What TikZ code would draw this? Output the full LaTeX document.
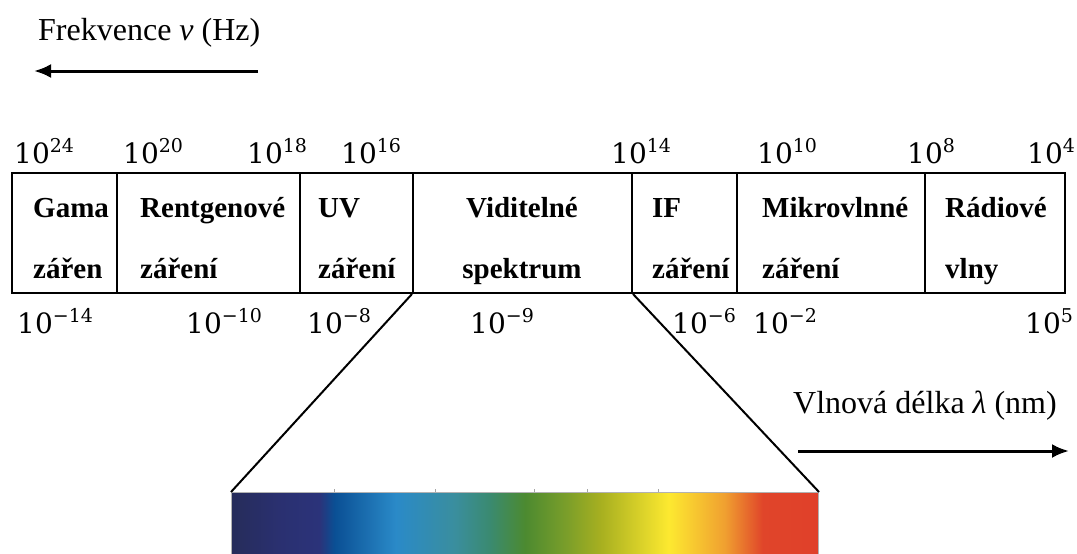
\documentclass[tikz,border=0pt]{standalone}
\usepackage{fontspec}
\setmainfont{Liberation Serif}
\newfontfamily\numf{DejaVu Serif}
\usetikzlibrary{arrows.meta}
\definecolor{c0}{HTML}{262C5A}
\definecolor{c1}{HTML}{2A3070}
\definecolor{c2}{HTML}{2B337A}
\definecolor{c3}{HTML}{0A4F94}
\definecolor{c4}{HTML}{2A8AC8}
\definecolor{c5}{HTML}{3A8E9E}
\definecolor{c6}{HTML}{3A8A70}
\definecolor{c7}{HTML}{4C8A30}
\definecolor{c8}{HTML}{7A9E2A}
\definecolor{c9}{HTML}{A8B020}
\definecolor{c10}{HTML}{FDE930}
\definecolor{c11}{HTML}{F0A030}
\definecolor{c12}{HTML}{E0452A}
\definecolor{c13}{HTML}{E0402A}
\pgfdeclarehorizontalshading{spec}{100bp}{%
color(0bp)=(c0); color(25bp)=(c0); color(29bp)=(c1); color(32.5bp)=(c2); color(33.75bp)=(c3);
color(39bp)=(c4); color(44bp)=(c5); color(47bp)=(c6); color(50bp)=(c7);
color(53.5bp)=(c8); color(56.5bp)=(c9); color(62.25bp)=(c10); color(67bp)=(c11);
color(70.25bp)=(c12); color(75bp)=(c13); color(100bp)=(c13)}
\newcommand{\pw}[1]{{\numf\fontsize{28}{28}\selectfont 10\raisebox{11pt}{\fontsize{19}{19}\selectfont #1}}}
\tikzset{
  cell/.style={draw, line width=2pt, rectangle, minimum height=120pt, inner sep=0pt},
  lab/.style={font=\fontsize{29}{29}\selectfont\bfseries, anchor=base west, inner sep=0pt},
  num/.style={anchor=base west, inner sep=0pt},
  axis/.style={font=\fontsize{32}{32}\selectfont, anchor=base west, inner sep=0pt},
  arr/.style={line width=3pt, -{Latex[length=17pt,width=14pt]}},
  conn/.style={line width=2pt},
}
\begin{document}
\begin{tikzpicture}[x=1pt,y=-1pt]
\useasboundingbox (0,0) rectangle (1077,554);
% axis labels
\node[axis] (freq) at (38,40) {Frekvence \textit{ν} (Hz)};
\coordinate (fa1) at (258,71);
\coordinate (fa2) at (34,71);
\draw[arr] (fa1) -- (fa2);
\node[axis] (wl) at (793,413) {Vlnová délka \textit{λ} (nm)};
\coordinate (wa1) at (798,451);
\coordinate (wa2) at (1069,451);
\draw[arr] (wa1) -- (wa2);
% cells
\node[cell, minimum width=105pt] (c1) at (64.5,233) {};
\node[cell, minimum width=183pt] (c2) at (208.5,233) {};
\node[cell, minimum width=113pt] (c3) at (356.5,233) {};
\node[cell, minimum width=219pt] (c4) at (522.5,233) {};
\node[cell, minimum width=105pt] (c5) at (684.5,233) {};
\node[cell, minimum width=188pt] (c6) at (831,233) {};
\node[cell, minimum width=140pt] (c7) at (995,233) {};
% cell texts
\node[lab] (t1a) at (33,217) {Gama};
\node[lab] (t1b) at (33,278) {zářen};
\node[lab] (t2a) at (140,217) {Rentgenové};
\node[lab] (t2b) at (140,278) {záření};
\node[lab] (t3a) at (318,217) {UV};
\node[lab] (t3b) at (318,278) {záření};
\node[lab, anchor=base] (t4a) at (522,217) {Viditelné};
\node[lab, anchor=base] (t4b) at (522,278) {spektrum};
\node[lab] (t5a) at (652,217) {IF};
\node[lab] (t5b) at (652,278) {záření};
\node[lab] (t6a) at (762,217) {Mikrovlnné};
\node[lab] (t6b) at (762,278) {záření};
\node[lab] (t7a) at (945,217) {Rádiové};
\node[lab] (t7b) at (945,278) {vlny};
% frequency numbers
\node[num] (f1) at (14,163) {\pw{24}};
\node[num] (f2) at (123,163) {\pw{20}};
\node[num] (f3) at (247,163) {\pw{18}};
\node[num] (f4) at (341,163) {\pw{16}};
\node[num] (f5) at (611,163) {\pw{14}};
\node[num] (f6) at (757,163) {\pw{10}};
\node[num] (f7) at (907,163) {\pw{8}};
\node[num] (f8) at (1027,163) {\pw{4}};
% wavelength numbers
\node[num] (w1) at (17,333) {\pw{−14}};
\node[num] (w2) at (186,333) {\pw{−10}};
\node[num] (w3) at (307,333) {\pw{−8}};
\node[num] (w4) at (470,333) {\pw{−9}};
\node[num] (w5) at (672,333) {\pw{−6}};
\node[num] (w6) at (753,333) {\pw{−2}};
\node[num] (w7) at (1025,333) {\pw{5}};
% spectrum
\node[draw=gray!60, line width=1pt, shading=spec, minimum width=587pt, minimum height=64pt, inner sep=0pt, anchor=north west] (sp) at (231,492) {};
\foreach \x in {334,435,534,587,658} \draw[gray!70, line width=0.8pt] (\x,489) -- (\x,492);
\draw[conn] (c4.south west) -- (sp.north west);
\draw[conn] (c4.south east) -- (sp.north east);
\end{tikzpicture}
\end{document}
